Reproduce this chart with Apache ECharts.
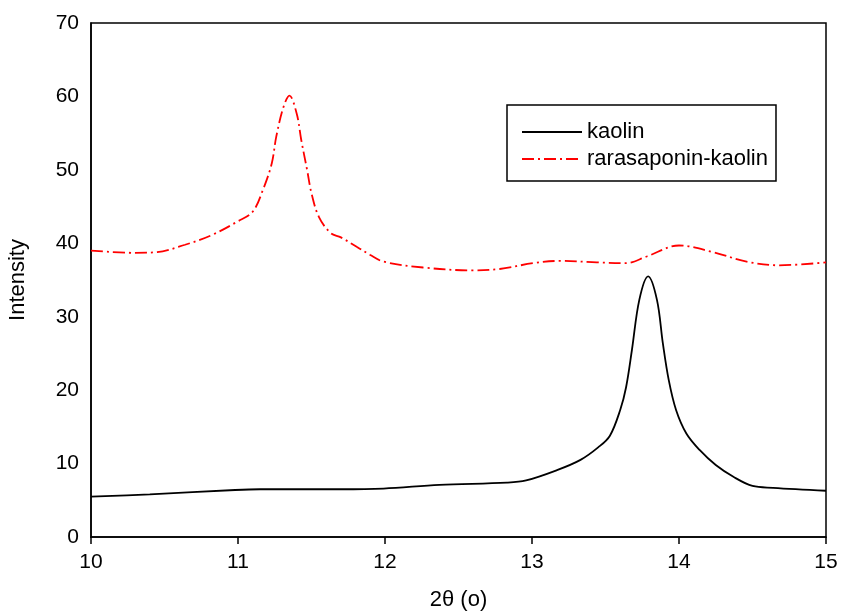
<!DOCTYPE html>
<html>
<head>
<meta charset="utf-8">
<script src="https://cdn.jsdelivr.net/npm/echarts@6/dist/echarts.min.js"></script>
<style>html,body{margin:0;padding:0;background:#fff}#c{width:841px;height:613px}</style>
</head>
<body>
<div id="c"></div>
<script>
const seriesNames = ['kaolin', 'rarasaponin-kaolin'];
const xTicks = [10, 11, 12, 13, 14, 15];
const yTicks = [0, 10, 20, 30, 40, 50, 60, 70];

const kaolinX = [10, 10.4, 10.98, 11.15, 11.7, 11.99, 12.37, 12.83, 12.96, 13.17, 13.33, 13.45, 13.53, 13.6, 13.64, 13.68, 13.73, 13.79, 13.85, 13.89, 13.93, 13.98, 14.05, 14.14, 14.25, 14.37, 14.5, 14.64, 15];
const kaolinY = [5.5, 5.8, 6.4, 6.5, 6.5, 6.6, 7.1, 7.4, 7.7, 9.1, 10.5, 12.2, 13.8, 17.3, 20.4, 25.5, 32.3, 35.5, 32.3, 26.4, 21.4, 17.3, 14.1, 11.85, 9.8, 8.2, 6.95, 6.7, 6.3];

const raraX = [10, 10.3, 10.45, 10.64, 10.82, 11.0, 11.1, 11.17, 11.23, 11.26, 11.31, 11.35, 11.4, 11.43, 11.47, 11.5, 11.55, 11.63, 11.7, 11.81, 11.9, 11.99, 12.26, 12.6, 12.78, 13.01, 13.19, 13.44, 13.64, 13.78, 14.0, 14.23, 14.46, 14.68, 15];
const raraY = [39.0, 38.7, 38.8, 39.8, 41.1, 43.0, 44.3, 47.3, 50.9, 54.5, 58.6, 60.1, 57.6, 54.1, 50.0, 46.8, 43.6, 41.4, 40.8, 39.5, 38.4, 37.5, 36.7, 36.3, 36.5, 37.3, 37.6, 37.4, 37.3, 38.2, 39.7, 38.8, 37.5, 37.0, 37.4];

const zip = (xs, ys) => xs.map((x, i) => [x, ys[i]]);
const font = 'Liberation Sans, Arial, sans-serif';

const chart = echarts.init(document.getElementById('c'), null, {renderer: 'canvas'});
chart.setOption({
  animation: false,
  backgroundColor: '#fff',
  grid: {left: 91, right: 15, top: 23, bottom: 76, containLabel: false, outerBoundsMode: 'none', show: true, borderColor: '#000', borderWidth: 1.5, backgroundColor: 'transparent'},
  legend: {
    data: seriesNames,
    orient: 'vertical',
    left: 507, top: 105,
    itemWidth: 60, itemHeight: 12, itemGap: 5,
    padding: [16, 8, 11, 14],
    borderColor: '#000', borderWidth: 1.5,
    itemStyle: {opacity: 0},
    textStyle: {fontFamily: font, fontSize: 22, color: '#000', lineHeight: 22},
  },
  xAxis: {
    type: 'value', min: xTicks[0], max: xTicks[xTicks.length - 1], interval: 1,
    name: '2θ (o)', nameLocation: 'middle', nameGap: 52,
    nameTextStyle: {fontFamily: font, fontSize: 22, color: '#000'},
    axisLine: {show: true, onZero: false, lineStyle: {color: '#000', width: 1.5}},
    axisTick: {show: true, inside: false, length: 7, lineStyle: {color: '#000', width: 1.5}},
    axisLabel: {fontFamily: font, fontSize: 21, color: '#000', margin: 15},
    splitLine: {show: false},
  },
  yAxis: {
    type: 'value', min: yTicks[0], max: yTicks[yTicks.length - 1], interval: 10,
    name: 'Intensity', nameLocation: 'middle', nameGap: 62,
    nameTextStyle: {fontFamily: font, fontSize: 22, color: '#000'},
    axisLine: {show: true, lineStyle: {color: '#000', width: 1.5}},
    axisTick: {show: false},
    axisLabel: {fontFamily: font, fontSize: 21, color: '#000', margin: 12},
    splitLine: {show: false},
  },
  series: [
    {
      name: seriesNames[0], type: 'line', data: zip(kaolinX, kaolinY),
      smooth: 0.35, symbol: 'none', showSymbol: false,
      lineStyle: {color: '#000', width: 1.8},
      itemStyle: {color: '#000'},
    },
    {
      name: seriesNames[1], type: 'line', data: zip(raraX, raraY),
      smooth: 0.35, symbol: 'none', showSymbol: false,
      lineStyle: {color: '#ff0000', width: 1.8, type: [12, 4, 2, 4]},
      itemStyle: {color: '#ff0000'},
    },
  ],
});
</script>
</body>
</html>
